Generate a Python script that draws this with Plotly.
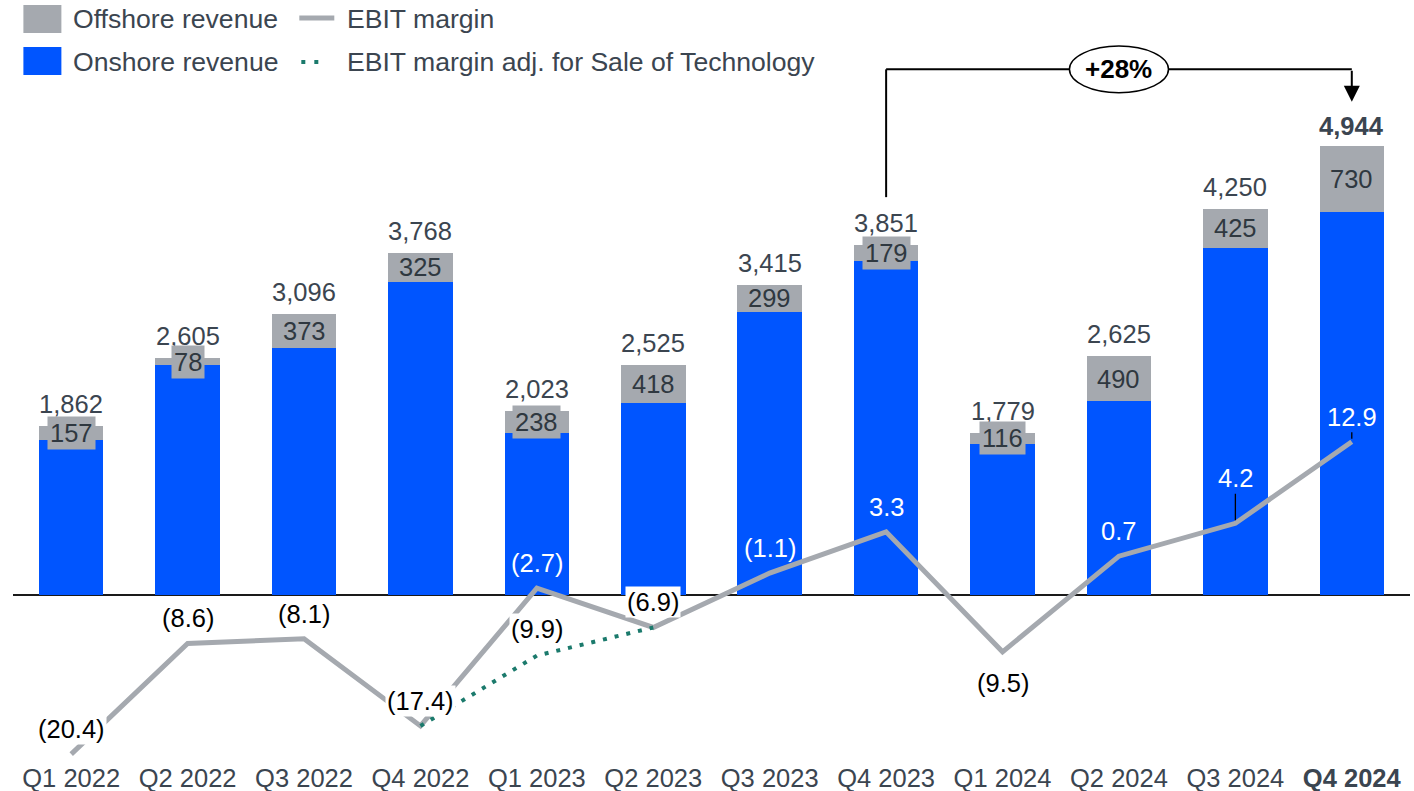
import plotly.graph_objects as go

# ---------------- data ----------------
quarters = ["Q1 2022", "Q2 2022", "Q3 2022", "Q4 2022", "Q1 2023", "Q2 2023",
            "Q3 2023", "Q4 2023", "Q1 2024", "Q2 2024", "Q3 2024", "Q4 2024"]
total_revenue = [1862, 2605, 3096, 3768, 2023, 2525, 3415, 3851, 1779, 2625, 4250, 4944]
offshore_revenue = [157, 78, 373, 325, 238, 418, 299, 179, 116, 490, 425, 730]
onshore_revenue = [t - o for t, o in zip(total_revenue, offshore_revenue)]
ebit_margin = [-20.4, -8.6, -8.1, -17.4, -2.7, -6.9, -1.1, 3.3, -9.5, 0.7, 4.2, 12.9]
ebit_margin_adj = [None, None, None, -17.4, -9.9, -6.9, None, None, None, None, None, None]
growth_text = "+28%"

# ---------------- styling ----------------
FONT = "Liberation Sans, Arial, Helvetica, sans-serif"
BLUE = "#0055FF"
GREY = "#A5A9AF"
GREEN = "#1B7A6C"
TXT = "#3B4550"
FS = 25.5

W, H = 1414, 791
ML, MR, MT, MB = 12.6, 4, 0, 31
PW, PH = W - ML - MR, H - MT - MB

def px_x(px):
    return (px - ML) / PW

def px_y(py):
    return 1 - (py - MT) / PH

def fmt(v):
    return f"({abs(v):.1f})" if v < 0 else f"{v:.1f}"

x = list(range(len(quarters)))

fig = go.Figure()
fig.add_trace(go.Bar(x=x, y=onshore_revenue, name="Onshore revenue",
                     marker=dict(color=BLUE, line=dict(width=0)), width=0.554,
                     showlegend=False))
fig.add_trace(go.Bar(x=x, y=offshore_revenue, name="Offshore revenue",
                     marker=dict(color=GREY, line=dict(width=0)), width=0.554,
                     showlegend=False))
fig.add_trace(go.Scatter(x=x, y=ebit_margin, yaxis="y2", mode="lines",
                         name="EBIT margin", line=dict(color=GREY, width=5),
                         showlegend=False))
fig.add_trace(go.Scatter(x=x, y=ebit_margin_adj, yaxis="y2", mode="lines",
                         name="EBIT margin adj. for Sale of Technology",
                         line=dict(color=GREEN, width=4, dash="4px,8px"),
                         connectgaps=False, showlegend=False))

ann = []
shapes = []

# totals above bars
for i, t in enumerate(total_revenue):
    bold = i == len(total_revenue) - 1
    ann.append(dict(x=i, y=t, xref="x", yref="y", showarrow=False,
                    text=f"<b>{t:,}</b>" if bold else f"{t:,}",
                    yanchor="middle", yshift=20 if bold else 22,
                    font=dict(size=FS, color=TXT, family=FONT)))

# offshore values inside grey segments (small segments get a grey label box)
for i, (on, off) in enumerate(zip(onshore_revenue, offshore_revenue)):
    d = dict(x=i, y=on + off / 2, xref="x", yref="y", showarrow=False,
             text=str(off), font=dict(size=FS, color="#2F3840", family=FONT))
    if off < 260:
        d.update(bgcolor=GREY, borderpad=2)
    ann.append(d)

# EBIT margin labels
white_text = {4, 6, 7, 9, 10, 11}
below = {8}
leader = {10: -45, 11: -25}
for i, v in enumerate(ebit_margin):
    col = "white" if i in white_text else "black"
    d = dict(x=i, y=v, xref="x", yref="y2", text=fmt(v),
             font=dict(size=FS, color=col, family=FONT))
    if i not in white_text:
        d["bgcolor"] = "white"
    if i in leader:
        d.update(showarrow=True, ax=0, ay=leader[i], arrowhead=0,
                 arrowwidth=1.3, arrowcolor="black", standoff=3)
    else:
        d.update(showarrow=False, yshift=-31 if i in below else 25)
    ann.append(d)

# adjusted margin label (only the point that differs)
for i, (v, a) in enumerate(zip(ebit_margin, ebit_margin_adj)):
    if a is not None and a != v:
        ann.append(dict(x=i, y=a, xref="x", yref="y2", text=fmt(a),
                        showarrow=False, yshift=27, bgcolor="white",
                        font=dict(size=FS, color="black", family=FONT)))

# growth bracket from Q4 2023 to Q4 2024
i0, i1 = 7, 11
bracket_y = 5790
shapes.append(dict(type="line", xref="x", yref="y", x0=i0, x1=i0,
                   y0=total_revenue[i0] + 530, y1=bracket_y,
                   line=dict(color="black", width=2)))
shapes.append(dict(type="line", xref="x", yref="y", x0=i0, x1=i1,
                   y0=bracket_y, y1=bracket_y, line=dict(color="black", width=2)))
ann.append(dict(x=i1, y=total_revenue[i1] + 490, xref="x", yref="y",
                ax=i1, ay=bracket_y, axref="x", ayref="y", text="",
                showarrow=True, arrowhead=2, arrowsize=1.6, arrowwidth=2,
                arrowcolor="black", standoff=0))
shapes.append(dict(type="circle", xref="x", yref="y",
                   xsizemode="pixel", xanchor=(i0 + i1) / 2, x0=-49.5, x1=49.5,
                   ysizemode="pixel", yanchor=bracket_y, y0=-23.3, y1=23.3,
                   fillcolor="white", line=dict(color="black", width=1.5)))
ann.append(dict(x=(i0 + i1) / 2, y=bracket_y, xref="x", yref="y", showarrow=False,
                text=f"<b>{growth_text}</b>",
                font=dict(size=26, color="black", family=FONT)))

# manual legend
LFS = 26.6
shapes.append(dict(type="rect", xref="paper", yref="paper",
                   x0=px_x(23), x1=px_x(61), y0=px_y(33), y1=px_y(5),
                   fillcolor=GREY, line=dict(width=0)))
shapes.append(dict(type="rect", xref="paper", yref="paper",
                   x0=px_x(23), x1=px_x(61), y0=px_y(75), y1=px_y(47),
                   fillcolor=BLUE, line=dict(width=0)))
shapes.append(dict(type="line", xref="paper", yref="paper",
                   x0=px_x(299), x1=px_x(334), y0=px_y(18), y1=px_y(18),
                   line=dict(color=GREY, width=5)))
shapes.append(dict(type="line", xref="paper", yref="paper",
                   x0=px_x(301), x1=px_x(319), y0=px_y(62), y1=px_y(62),
                   line=dict(color=GREEN, width=4, dash="4px,9px")))
for txt, lx, ly in [("Offshore revenue", 71, 19), ("Onshore revenue", 71, 62),
                    ("EBIT margin", 345, 19),
                    ("EBIT margin adj. for Sale of Technology", 345, 62)]:
    ann.append(dict(x=px_x(lx), y=px_y(ly), xref="paper", yref="paper",
                    xanchor="left", yanchor="middle", showarrow=False, text=txt,
                    font=dict(size=LFS, color=TXT, family=FONT)))

ticktext = [f"<b>{q}</b>" if i == len(quarters) - 1 else q for i, q in enumerate(quarters)]

fig.update_layout(
    width=W, height=H,
    margin=dict(l=ML, r=MR, t=MT, b=MB, pad=0),
    paper_bgcolor="white", plot_bgcolor="white",
    barmode="stack", bargap=0.45,
    font=dict(family=FONT, size=FS, color=TXT),
    showlegend=False,
    xaxis=dict(range=[-0.5, 11.5], tickmode="array", tickvals=x, ticktext=ticktext,
               showgrid=False, zeroline=False, showline=False, ticks="",
               tickfont=dict(size=FS, color=TXT, family=FONT), fixedrange=True),
    yaxis=dict(range=[-1824.7, 6554.6], showgrid=False, showticklabels=False,
               zeroline=True, zerolinecolor="#1a1a1a", zerolinewidth=1.6,
               showline=False, ticks="", fixedrange=True),
    yaxis2=dict(range=[-21.03, 59.99], overlaying="y", side="right",
                showgrid=False, showticklabels=False, zeroline=False,
                showline=False, ticks="", fixedrange=True),
    annotations=ann, shapes=shapes,
)

fig.write_html("out.html", config={"displayModeBar": False},
               post_script="document.body.style.margin='0';document.body.style.overflow='hidden';")
